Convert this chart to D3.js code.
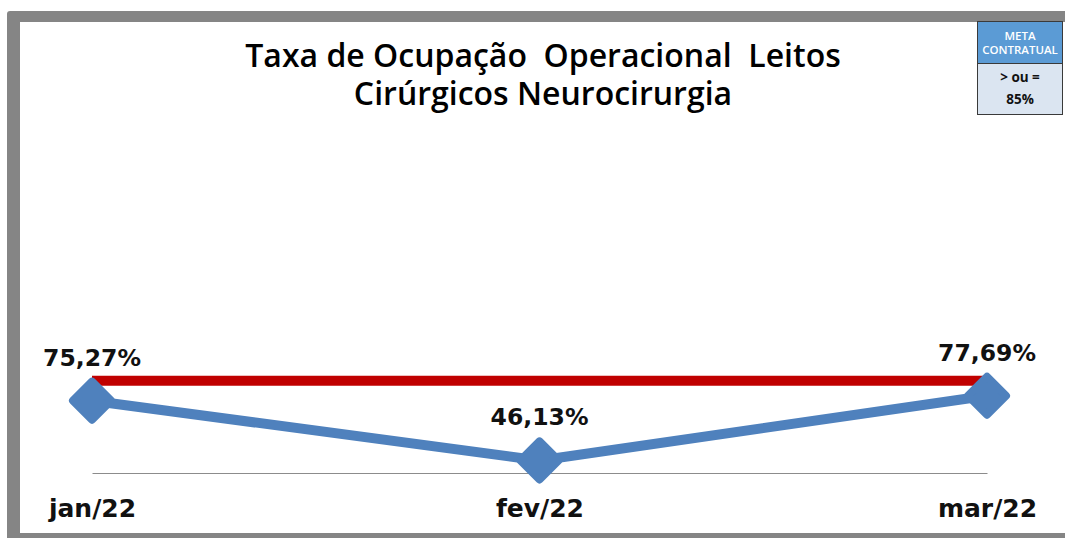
<!DOCTYPE html>
<html><head><meta charset="utf-8">
<script src="https://cdn.jsdelivr.net/npm/d3@7"></script>
<style>html,body{margin:0;padding:0;background:#fff;overflow:hidden}</style>
</head><body>
<script>
const categories = ["jan/22", "fev/22", "mar/22"];
const values = [75.27, 46.13, 77.69];
const valueLabels = ["75,27%", "46,13%", "77,69%"];
const meta = 85;
const titleLines = ["Taxa de Ocupação  Operacional  Leitos", "Cirúrgicos Neurocirurgia"];
const metaHeader = ["META", "CONTRATUAL"];
const metaBody = ["> ou =", "85%"];

const W = 1065, H = 538;
const svg = d3.select("body").append("svg").attr("width", W).attr("height", H);

// frame
svg.append("rect").attr("x", 7).attr("y", 11).attr("width", W).attr("height", H).attr("fill", "#858585").attr("rx", 3);
svg.append("rect").attr("x", 20).attr("y", 22).attr("width", W).attr("height", 511).attr("fill", "#fff");

const x = d3.scalePoint().domain(categories).range([92, 987]);
const y = d3.scaleLinear().domain([40, 100]).range([473, 350]);

// axis
const axis = svg.append("g").attr("transform", `translate(0,${y(40)})`)
  .call(d3.axisBottom(x).tickSize(0).tickPadding(26));
axis.select(".domain").attr("stroke", "#8c8c8c").attr("stroke-width", 1);
axis.selectAll("text").attr("font-family", "DejaVu Sans").attr("font-weight", "bold")
  .attr("font-size", 25).attr("fill", "#111").attr("dy", "0.71em");

// meta line
svg.append("line").attr("x1", x(categories[0])).attr("x2", x(categories[2]))
  .attr("y1", y(meta)).attr("y2", y(meta)).attr("stroke", "#c00000").attr("stroke-width", 10);

// series line
const line = d3.line().x((d, i) => x(categories[i])).y(d => y(d));
svg.append("path").datum(values).attr("d", line).attr("fill", "none")
  .attr("stroke", "#4f81bd").attr("stroke-width", 10).attr("stroke-linejoin", "round");

// diamond markers
const r = 19;
svg.selectAll(".mk").data(values).enter().append("path")
  .attr("d", (d, i) => {
    const cx = x(categories[i]), cy = y(d);
    return `M${cx - r},${cy}L${cx},${cy - r}L${cx + r},${cy}L${cx},${cy + r}Z`;
  })
  .attr("fill", "#4f81bd").attr("stroke", "#4f81bd").attr("stroke-width", 8).attr("stroke-linejoin", "round");

// value labels
svg.selectAll(".vl").data(values).enter().append("text")
  .attr("x", (d, i) => x(categories[i]))
  .attr("y", d => y(d) - 35)
  .attr("text-anchor", "middle").attr("font-family", "DejaVu Sans").attr("font-weight", "bold")
  .attr("font-size", 23.5).attr("fill", "#111").text((d, i) => valueLabels[i]);

// title (one text element, two lines)
const title = svg.append("text").attr("x", 543).attr("y", 67)
  .attr("text-anchor", "middle").attr("font-family", "Open Sans").attr("font-weight", 600)
  .attr("font-size", 32).attr("fill", "#000").style("white-space", "pre");
title.selectAll("tspan").data(titleLines).enter().append("tspan")
  .attr("x", 543).attr("dy", (d, i) => i === 0 ? 0 : 38).text(d => d);

// meta box
const bx = 977.5, bw = 85, by = 21.5;
svg.append("rect").attr("x", bx).attr("y", by).attr("width", bw).attr("height", 42).attr("fill", "#5b9bd5");
svg.append("rect").attr("x", bx).attr("y", by + 42).attr("width", bw).attr("height", 51).attr("fill", "#dbe5f1");
svg.append("line").attr("x1", bx).attr("x2", bx + bw).attr("y1", by + 42).attr("y2", by + 42).attr("stroke", "#3a3a3a");
svg.append("rect").attr("x", bx).attr("y", by).attr("width", bw).attr("height", 93).attr("fill", "none").attr("stroke", "#3a3a3a");
svg.selectAll(".mh").data(metaHeader).enter().append("text")
  .attr("x", bx + bw / 2).attr("y", (d, i) => 40 + i * 14)
  .attr("text-anchor", "middle").attr("font-family", "Open Sans").attr("font-weight", 600)
  .attr("font-size", 11.5).attr("fill", "#fff").text(d => d);
svg.selectAll(".mb").data(metaBody).enter().append("text")
  .attr("x", bx + bw / 2).attr("y", (d, i) => 82 + i * 22)
  .attr("text-anchor", "middle").attr("font-family", "Open Sans").attr("font-weight", "bold")
  .attr("font-size", 13.5).attr("fill", "#111").text(d => d);
</script>
</body></html>
